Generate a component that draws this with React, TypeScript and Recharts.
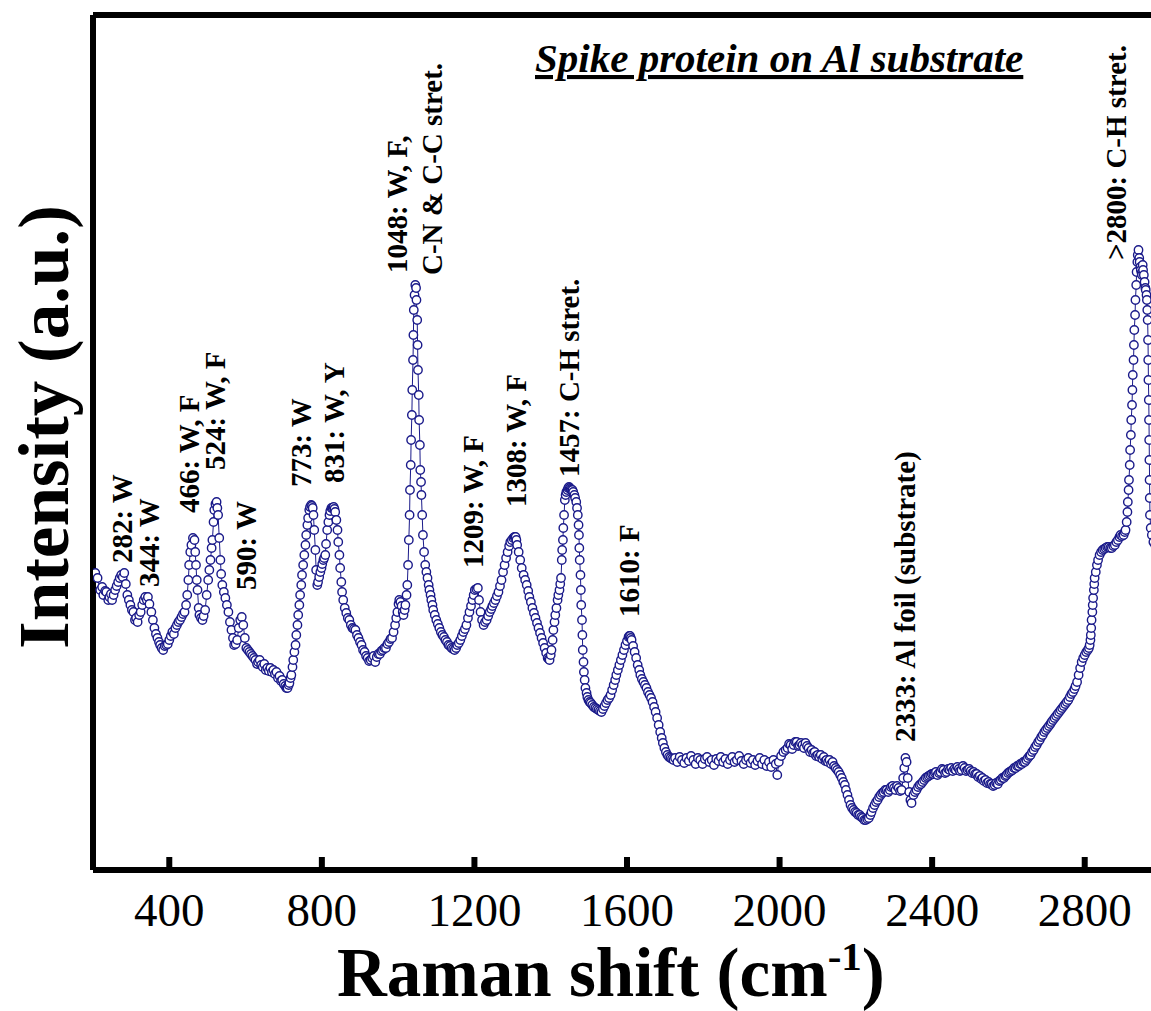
import {
  ComposedChart,
  Line,
  XAxis,
  YAxis,
  ReferenceLine,
  ReferenceDot,
} from "recharts";

const NAVY = "#1a1a8a";
const SERIF = "'Liberation Serif', 'Times New Roman', serif";

// [Raman shift (cm-1), intensity (a.u.)], region by region
const lowShiftRegion = [
  [206, 297], [212, 292], [219, 280], [224, 283], [227, 275], [232, 279], [235, 278], [240, 270],
  [243, 273], [247, 276], [250, 270], [254, 275], [258, 280], [262, 284], [266, 288], [270, 292],
  [274, 295], [278, 293], [282, 297], [286, 286], [290, 275], [294, 270], [298, 265], [302, 260],
  [306, 258], [310, 250], [313, 252], [317, 248], [321, 255], [325, 258], [329, 265], [333, 270],
  [337, 273], [341, 270], [344, 273], [348, 266], [353, 258], [357, 250], [361, 242], [365, 236],
  [369, 232], [373, 228], [376, 225], [380, 222], [384, 220], [388, 224], [392, 225], [396, 226],
  [400, 230], [404, 234], [408, 238], [412, 236], [416, 242], [420, 245], [424, 248], [428, 250],
  [432, 253], [436, 256], [440, 258], [444, 265], [447, 275], [450, 290], [452, 305], [455, 318],
  [458, 325], [462, 332], [466, 330], [468, 318], [470, 305], [472, 290], [474, 280], [477, 262],
  [479, 255], [483, 252], [487, 250], [490, 254], [494, 260], [498, 275], [502, 290], [505, 300],
  [508, 310], [511, 322], [513, 330], [516, 348], [518, 360], [521, 366], [524, 368], [526, 362],
  [528, 355], [531, 332], [534, 310], [536, 296], [539, 285], [543, 278], [547, 272], [551, 265],
  [555, 258], [559, 248], [563, 240], [567, 232], [570, 225], [574, 226], [578, 230], [582, 242],
  [586, 250], [590, 253], [594, 245], [598, 232], [602, 222], [606, 220], [610, 218], [614, 216],
  [618, 214], [622, 212], [626, 210], [630, 206], [633, 208], [637, 210], [641, 205], [645, 203],
  [649, 206], [653, 200], [657, 202], [661, 199], [665, 202], [669, 198], [673, 200], [677, 196],
  [681, 198], [685, 192], [689, 194], [693, 189], [696, 190], [700, 186],
];

const fingerprintRegion = [
  [704, 184], [707, 182], [710, 182], [713, 185], [715, 187], [718, 192], [720, 195], [723, 203],
  [725, 210], [728, 218], [731, 225], [733, 235], [736, 245], [738, 255], [741, 265], [743, 275],
  [746, 285], [748, 295], [751, 305], [754, 315], [757, 325], [759, 335], [762, 345], [764, 352],
  [767, 360], [769, 363], [772, 365], [774, 364], [776, 362], [778, 355], [780, 340], [783, 320],
  [785, 300], [788, 285], [790, 288], [793, 293], [796, 298], [799, 302], [801, 306], [804, 310],
  [806, 312], [809, 315], [811, 326], [814, 340], [817, 348], [820, 355], [822, 359], [825, 362],
  [828, 362], [831, 363], [833, 361], [835, 358], [838, 350], [841, 340], [843, 328], [846, 315],
  [848, 302], [851, 288], [853, 278], [856, 270], [860, 262], [864, 257], [868, 252], [872, 250],
  [876, 245], [880, 242], [884, 241], [888, 240], [892, 235], [896, 232], [900, 228], [904, 225],
  [908, 220], [912, 218], [916, 214], [920, 212], [924, 209], [928, 210], [932, 212], [936, 214],
  [940, 208], [944, 213], [948, 216], [952, 216], [956, 219], [960, 220], [964, 222], [968, 222],
  [972, 226], [976, 228], [980, 231], [984, 232], [988, 238], [992, 245], [995, 252], [998, 258],
  [1001, 266], [1003, 270], [1006, 268], [1009, 264], [1012, 258], [1014, 255], [1017, 260], [1019, 265],
];

const proteinRegion = [
  [1022, 275], [1024, 285], [1026, 305], [1028, 330], [1030, 355], [1031, 380], [1033, 405], [1034, 430],
  [1036, 455], [1037, 480], [1039, 510], [1040, 535], [1041, 560], [1043, 575], [1045, 585], [1047, 582],
  [1048, 570], [1050, 550], [1051, 525], [1052, 500], [1054, 475], [1055, 450], [1057, 425], [1058, 400],
  [1060, 388], [1061, 375], [1063, 355], [1065, 335], [1068, 318], [1071, 305], [1074, 298], [1077, 292],
  [1080, 285], [1082, 280], [1085, 275], [1087, 270], [1090, 265], [1092, 260], [1096, 255], [1100, 250],
  [1104, 246], [1108, 242], [1112, 238], [1116, 235], [1120, 233], [1124, 230], [1128, 228], [1132, 225],
  [1136, 224], [1140, 222], [1144, 221], [1148, 220], [1152, 222], [1155, 225], [1159, 227], [1163, 230],
  [1167, 234], [1171, 238], [1175, 241], [1179, 245], [1183, 252], [1187, 258], [1191, 264], [1195, 270],
  [1198, 275], [1201, 280], [1205, 281], [1209, 282], [1212, 270], [1216, 258], [1220, 250], [1224, 245],
  [1228, 248], [1232, 250], [1236, 254], [1240, 258], [1244, 261], [1247, 264], [1251, 267], [1255, 270],
  [1259, 274], [1263, 278], [1267, 284], [1271, 290], [1275, 298], [1279, 305], [1283, 312], [1287, 318],
  [1291, 324], [1294, 328], [1298, 330], [1302, 332], [1305, 333], [1308, 333], [1310, 330], [1312, 325],
  [1316, 318], [1320, 310], [1324, 302], [1329, 295], [1333, 290], [1337, 285], [1341, 279], [1344, 273],
  [1348, 268], [1352, 262], [1356, 257], [1360, 252], [1364, 247], [1368, 242], [1372, 237], [1376, 232],
  [1380, 227], [1384, 222], [1388, 217], [1392, 212], [1395, 211], [1397, 210], [1400, 215], [1402, 220],
  [1405, 230], [1407, 240], [1410, 248], [1412, 255], [1415, 262], [1418, 270], [1420, 275], [1423, 280],
  [1425, 286], [1427, 292], [1429, 310], [1430, 320], [1432, 330], [1433, 342], [1435, 355], [1437, 370],
  [1439, 375], [1441, 378], [1444, 380], [1446, 382], [1448, 383], [1450, 382], [1452, 381], [1454, 380],
  [1457, 380], [1459, 378], [1462, 375], [1464, 372], [1467, 368], [1469, 362], [1471, 355], [1473, 345],
  [1474, 335], [1475, 322], [1476, 310], [1478, 295], [1479, 280], [1480, 265], [1482, 250], [1483, 235],
  [1484, 220], [1486, 208], [1487, 198], [1489, 190], [1491, 182], [1494, 177], [1496, 173], [1499, 170],
  [1502, 168], [1505, 167], [1509, 165], [1513, 163], [1517, 162], [1521, 161], [1525, 160], [1529, 159],
  [1533, 158], [1537, 161], [1541, 164], [1545, 167], [1549, 170], [1553, 172], [1557, 175], [1561, 180],
  [1565, 185], [1569, 190], [1572, 195], [1576, 200], [1580, 205], [1584, 210], [1588, 215], [1592, 220],
  [1596, 225], [1600, 229], [1604, 233], [1606, 234], [1608, 234], [1610, 232], [1612, 230], [1616, 224],
  [1620, 218], [1624, 212], [1628, 205], [1632, 200], [1635, 195], [1639, 191], [1643, 188], [1647, 185],
  [1651, 182], [1655, 178], [1659, 175], [1663, 172], [1667, 168], [1671, 163], [1675, 158], [1679, 152],
  [1683, 145], [1687, 138], [1691, 132], [1694, 127], [1698, 122], [1702, 118], [1706, 115], [1710, 113],
  [1714, 112], [1718, 111], [1722, 110],
];

const silentRegion = [
  [1726, 112], [1732, 108], [1738, 113], [1744, 110], [1750, 107], [1756, 112], [1762, 109], [1768, 114],
  [1774, 110], [1780, 106], [1786, 112], [1792, 110], [1798, 106], [1804, 111], [1810, 113], [1816, 108],
  [1822, 110], [1828, 105], [1834, 111], [1840, 109], [1846, 113], [1852, 108], [1858, 111], [1864, 106],
  [1870, 110], [1876, 113], [1882, 108], [1888, 110], [1894, 114], [1900, 109], [1906, 106], [1912, 110],
  [1918, 112], [1924, 107], [1930, 110], [1936, 105], [1942, 109], [1948, 112], [1954, 106], [1960, 110],
  [1966, 104], [1972, 108], [1978, 103], [1984, 110], [1990, 106], [1994, 95], [1998, 108], [2004, 114],
  [2010, 118], [2016, 120], [2021, 122], [2025, 126], [2029, 125], [2033, 121], [2037, 125], [2041, 128],
  [2045, 128], [2049, 124], [2052, 125], [2056, 127], [2060, 125], [2064, 122], [2068, 127], [2072, 124],
  [2076, 122], [2080, 118], [2084, 120], [2088, 117], [2092, 118], [2096, 114], [2100, 115], [2104, 113],
  [2108, 115], [2112, 111], [2116, 113], [2120, 109], [2123, 110], [2127, 108], [2131, 110], [2135, 106],
  [2139, 108], [2143, 104], [2147, 102], [2151, 100], [2155, 98], [2159, 95], [2163, 92], [2167, 88],
  [2171, 85], [2174, 80], [2178, 75], [2182, 70], [2186, 65], [2190, 62], [2194, 60], [2198, 58],
  [2202, 57], [2206, 55], [2210, 55], [2214, 53], [2218, 52], [2222, 50], [2226, 50], [2230, 51],
  [2234, 52], [2238, 55], [2241, 58], [2245, 62], [2249, 65], [2253, 68], [2257, 70], [2261, 73],
  [2265, 75], [2269, 77], [2273, 78], [2277, 80], [2281, 80], [2285, 78], [2289, 80], [2292, 83],
  [2296, 84], [2300, 82], [2304, 80], [2308, 84], [2312, 82], [2316, 79], [2320, 80],
];

const substrateRegion = [
  [2324, 92], [2327, 102], [2330, 112], [2333, 108], [2336, 92], [2340, 78], [2343, 70], [2346, 67],
  [2351, 75], [2355, 78], [2359, 80], [2363, 83], [2367, 85], [2371, 86], [2375, 88], [2379, 90],
  [2383, 92], [2387, 93], [2391, 94], [2395, 95], [2399, 96], [2403, 96], [2407, 97], [2410, 98],
  [2414, 95], [2418, 97], [2422, 98], [2426, 101], [2430, 100], [2434, 97], [2438, 98], [2442, 101],
  [2446, 100], [2450, 102], [2454, 99], [2458, 101], [2462, 100], [2466, 103], [2470, 101], [2473, 99],
  [2477, 100], [2481, 104], [2485, 102], [2489, 99], [2493, 100], [2497, 101], [2501, 99], [2505, 97],
  [2509, 98], [2513, 96], [2517, 96], [2521, 93], [2525, 94], [2529, 91], [2532, 92], [2536, 89],
  [2540, 90], [2544, 87], [2548, 88], [2552, 86], [2556, 86], [2560, 84], [2564, 85], [2568, 87],
  [2572, 86], [2576, 89], [2580, 90], [2584, 92], [2588, 92], [2592, 94], [2595, 95], [2599, 97],
  [2603, 98], [2607, 99], [2611, 100], [2615, 102], [2619, 102], [2623, 104], [2627, 104], [2631, 106],
  [2635, 106], [2639, 108], [2643, 108], [2647, 110], [2651, 112], [2655, 114], [2658, 115], [2662, 118],
  [2666, 120], [2670, 123], [2674, 125], [2678, 128], [2682, 130], [2686, 133], [2690, 135], [2694, 138],
  [2698, 140], [2702, 142], [2706, 144], [2710, 146], [2713, 148], [2717, 150], [2721, 152], [2725, 154],
  [2729, 156], [2733, 158], [2737, 160], [2741, 162], [2745, 164], [2749, 166], [2753, 168], [2757, 170],
  [2761, 173], [2765, 176], [2769, 178], [2773, 181], [2776, 184], [2780, 188], [2784, 195], [2788, 202],
  [2792, 208], [2796, 212], [2800, 215],
];

const chStretchRegion = [
  [2804, 218], [2808, 220], [2811, 222], [2813, 225], [2815, 230], [2816, 235], [2817, 242], [2818, 250],
  [2820, 258], [2821, 265], [2822, 272], [2824, 280], [2825, 286], [2826, 292], [2829, 298], [2832, 305],
  [2835, 310], [2839, 315], [2843, 318], [2847, 320], [2851, 321], [2855, 322], [2859, 323], [2863, 323],
  [2867, 322], [2871, 322], [2875, 324], [2879, 325], [2883, 328], [2887, 330], [2891, 333], [2894, 335],
  [2898, 334], [2902, 335], [2905, 338], [2907, 340], [2910, 348], [2912, 358], [2913, 368], [2915, 380],
  [2916, 390], [2918, 405], [2919, 420], [2921, 435], [2922, 450], [2924, 465], [2925, 480], [2926, 495],
  [2928, 510], [2929, 525], [2930, 540], [2932, 555], [2933, 570], [2935, 585], [2936, 598], [2938, 608],
  [2939, 615], [2941, 620], [2943, 612], [2944, 608], [2946, 603], [2947, 600], [2949, 597], [2950, 595],
  [2952, 605], [2953, 600], [2955, 595], [2957, 588], [2959, 582], [2960, 580], [2962, 575], [2963, 570],
  [2964, 560], [2965, 550], [2966, 530], [2966.5, 510], [2967, 490], [2968, 470], [2968.5, 450], [2969, 430],
  [2969.5, 410], [2970, 390], [2970.5, 372], [2971, 355], [2973, 342], [2976, 335], [2980, 328], [2985, 325],
  [2990, 322], [2995, 320],
];

const spectrum = [
  ...lowShiftRegion,
  ...fingerprintRegion,
  ...proteinRegion,
  ...silentRegion,
  ...substrateRegion,
  ...chStretchRegion,
].map(([shift, intensity]) => ({ shift, intensity }));

const xTicks = [400, 800, 1200, 1600, 2000, 2400, 2800];

// band assignments, anchored where each rotated label starts
const peakNotes = [
  { text: "282: W", shift: 277, at: 307 },
  { text: "344: W", shift: 348, at: 283 },
  { text: "466: W, F", shift: 452, at: 357 },
  { text: "524: W, F", shift: 521, at: 400 },
  { text: "590: W", shift: 602, at: 280 },
  { text: "773: W", shift: 746, at: 383 },
  { text: "831: W, Y", shift: 833, at: 387 },
  { text: "1048: W, F,", shift: 998, at: 597 },
  { text: "C-N & C-C stret.", shift: 1090, at: 595 },
  { text: "1209: W, F", shift: 1195, at: 302 },
  { text: "1308: W, F", shift: 1310, at: 363 },
  { text: "1457: C-H stret.", shift: 1449, at: 393 },
  { text: "1610: F", shift: 1604, at: 253 },
  { text: "2333: Al foil (substrate)", shift: 2328, at: 128 },
  { text: ">2800: C-H stret.", shift: 2881, at: 610 },
];

function BottomTick({ x, y, payload }: any) {
  return (
    <g>
      <line x1={x} y1={y} x2={x} y2={y - 15} stroke="#000" strokeWidth={6} />
      <text x={x} y={y + 54} textAnchor="middle" fontFamily={SERIF} fontSize={47} fill="#000">
        {payload.value}
      </text>
    </g>
  );
}

function NoteText({ viewBox, text }: any) {
  const cx = viewBox.x + viewBox.width / 2;
  const cy = viewBox.y + viewBox.height / 2;
  return (
    <text
      x={cx}
      y={cy}
      transform={`rotate(-90 ${cx} ${cy})`}
      dominantBaseline="central"
      fontFamily={SERIF}
      fontWeight="bold"
      fontSize={29}
      fill="#000"
    >
      {text}
    </text>
  );
}

function XTitle() {
  return (
    <text x={337} y={996} fontFamily={SERIF} fontWeight="bold" fontSize={69} fill="#000">
      Raman shift (cm
      <tspan fontSize={41} dy={-26}>-1</tspan>
      <tspan dy={26}>)</tspan>
    </text>
  );
}

function YTitle() {
  return (
    <text
      x={44}
      y={427}
      transform="rotate(-90 44 427)"
      textAnchor="middle"
      dominantBaseline="central"
      fontFamily={SERIF}
      fontWeight="bold"
      fontSize={71}
      fill="#000"
    >
      Intensity (a.u.)
    </text>
  );
}

function ChartTitle() {
  return (
    <text
      x={535}
      y={72}
      fontFamily={SERIF}
      fontWeight="bold"
      fontStyle="italic"
      fontSize={41}
      textDecoration="underline"
      fill="#000"
    >
      Spike protein on Al substrate
    </text>
  );
}

export default function App() {
  return (
    <div
      style={{
        position: "fixed",
        left: 0,
        top: 0,
        width: 1151,
        height: 1011,
        overflow: "hidden",
        background: "#fff",
      }}
    >
      <ComposedChart
        width={1170}
        height={1011}
        data={spectrum}
        margin={{ top: 15, right: 9, bottom: 0, left: 0 }}
      >
        <XAxis
          dataKey="shift"
          type="number"
          domain={[200, 3000]}
          allowDataOverflow
          ticks={xTicks}
          interval={0}
          height={141}
          tickSize={0}
          tickLine={false}
          axisLine={{ stroke: "#000", strokeWidth: 6 }}
          tick={<BottomTick />}
          label={<XTitle />}
        />
        <YAxis
          type="number"
          domain={[0, 855]}
          allowDataOverflow
          width={93}
          tick={false}
          tickLine={false}
          axisLine={{ stroke: "#000", strokeWidth: 6 }}
          label={<YTitle />}
        />
        <ReferenceLine y={855} stroke="#000" strokeWidth={6} label={<ChartTitle />} />
        <Line
          dataKey="intensity"
          type="linear"
          stroke={NAVY}
          strokeWidth={1}
          dot={{ r: 4.2, fill: "#fff", stroke: NAVY, strokeWidth: 1.4 }}
          activeDot={false}
          isAnimationActive={false}
        />
        {peakNotes.map((n) => (
          <ReferenceDot
            key={n.text}
            x={n.shift}
            y={n.at}
            r={1}
            fill="none"
            stroke="none"
            label={<NoteText text={n.text} />}
          />
        ))}
      </ComposedChart>
    </div>
  );
}
